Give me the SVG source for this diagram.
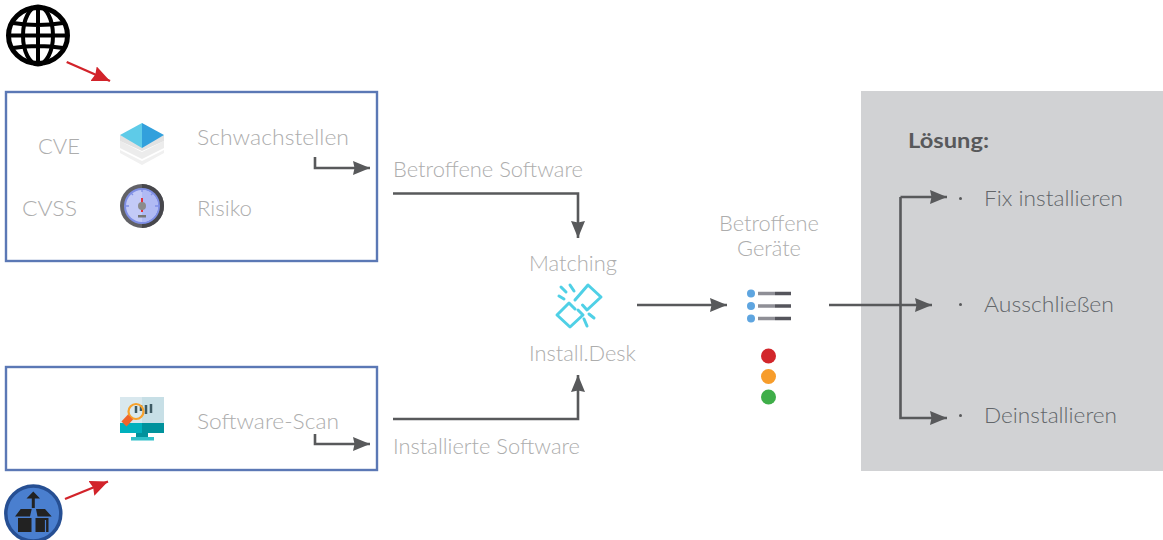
<svg xmlns="http://www.w3.org/2000/svg" width="1163" height="540" viewBox="0 0 1163 540">
<style>
text{font-family:Lato,"Open Sans","Liberation Sans",sans-serif;font-weight:300;font-size:21px;fill:#adadad}
.s{fill:#62666a}
.b{fill:#fff;stroke:#5b78b5;stroke-width:2.4}
.c{fill:none;stroke:#58595b;stroke-width:2.6}
.r{fill:none;stroke:#d2232a;stroke-width:2.4}
.g{fill:none;stroke:#000;stroke-width:4}
</style>
<defs>
<marker id="a" markerUnits="userSpaceOnUse" markerWidth="18" markerHeight="14" refX="17" refY="7" orient="auto"><path d="M0 0L17 7L0 14L1.500 7Z" fill="#58595b"/></marker>
<marker id="rd" markerUnits="userSpaceOnUse" markerWidth="20" markerHeight="16" refX="18" refY="8" orient="auto"><path d="M0 0L18 8L0 16L2 8Z" fill="#d2232a"/></marker>
</defs>
<rect id="panel" x="861" y="91" width="302" height="380" fill="#d1d2d4"/>
<g id="box-top"><rect class="b" x="6" y="92" width="371" height="169"/></g>
<g id="box-bottom"><rect class="b" x="6" y="367" width="371" height="103"/></g>
<g id="globe">
<ellipse cx="38" cy="35.500" rx="29.500" ry="28" fill="#fff" stroke="#000" stroke-width="5"/>
<ellipse class="g" cx="38" cy="35.500" rx="15" ry="29"/>
<path class="g" d="M38 6V65M8 35.500H68M13 23Q38 27 63 23M13 48Q38 44 63 48"/>
</g>
<g id="box-icon">
<circle cx="33.300" cy="513.500" r="27.500" fill="#4a7fcf" stroke="#264f93" stroke-width="3.500"/>
<path d="M33.300 491.500L26.500 498.500H31.800V508H34.800V498.500H40Z" fill="#222"/>
<path d="M15 516.500L20.700 509H31.700L30 516.500ZM36 509H45L51.700 516.500H37.500Z" fill="#222"/>
<path d="M18 518H31.500V532H18ZM35.500 518H48.500V532H35.500Z" fill="#222"/>
<path d="M45.500 520V532" stroke="#4a7fcf" stroke-width="1.200"/>
</g>
<g id="connectors">
<path class="r" d="M66.700 62L110 81" marker-end="url(#rd)"/>
<path class="r" d="M65 499L108 481.500" marker-end="url(#rd)"/>
<path class="c" d="M315 157V168H370" marker-end="url(#a)"/>
<path class="c" d="M393 193.500H578V238" marker-end="url(#a)"/>
<path class="c" d="M315 434V444H370" marker-end="url(#a)"/>
<path class="c" d="M393 419H578V375" marker-end="url(#a)"/>
<path class="c" d="M637 305H727" marker-end="url(#a)"/>
<path class="c" d="M829 305H932" marker-end="url(#a)"/>
<path class="c" d="M900.500 197V418H947" marker-end="url(#a)"/>
<path class="c" d="M900.500 197H947" marker-end="url(#a)"/>
</g>
<g id="cve"><text x="38" y="154" textLength="42" lengthAdjust="spacingAndGlyphs">CVE</text></g>
<g id="cvss"><text x="22" y="216" textLength="55" lengthAdjust="spacingAndGlyphs">CVSS</text></g>
<g id="layers-icon">
<path d="M120 150L142 161L164 150V153L142 165L120 153Z" fill="#f0f0f0"/>
<path d="M120 141L142 152L164 141V148L142 159L120 148Z" fill="#ececec"/>
<path d="M120 135L142 146L164 135V141L142 151L120 141Z" fill="#e2e2e2"/>
<path d="M120 135L142 123V148Z" fill="#5ecbe8"/>
<path d="M164 135L142 123V148Z" fill="#32a0dc"/>
</g>
<g id="gauge-icon">
<circle cx="142" cy="206" r="22" fill="#626267"/>
<path d="M142 184A22 22 0 0 1 142 228Z" fill="#47474c"/>
<circle cx="142" cy="206" r="18" fill="#7f8fe6"/>
<circle cx="142" cy="206" r="16" fill="#c3caf7"/>
<path d="M142 190A16 16 0 0 1 142 222Z" fill="#b0baf4"/>
<path d="M142 189V192M131 193L133 195M153 193L151 195M126 206H129M158 206H155" stroke="#7f8fe6" stroke-width="1.300"/>
<path d="M142 198V212" stroke="#e8232a" stroke-width="1.800"/>
<circle cx="142" cy="206" r="4" fill="#8b8b8b"/>
<rect x="138" y="215" width="8" height="2.500" fill="#777"/>
</g>
<g id="schwachstellen"><text x="197" y="145" textLength="152" lengthAdjust="spacingAndGlyphs">Schwachstellen</text></g>
<g id="risiko"><text x="197" y="216" textLength="55" lengthAdjust="spacingAndGlyphs">Risiko</text></g>
<g id="betroffene-software"><text x="393" y="177" textLength="190" lengthAdjust="spacingAndGlyphs">Betroffene Software</text></g>
<g id="monitor-icon">
<rect x="120" y="397" width="44" height="26" fill="#d9e8ee"/>
<rect x="142" y="397" width="22" height="26" fill="#c7dfe6"/>
<rect x="120" y="423" width="44" height="10" fill="#00b0bd"/>
<rect x="142" y="423" width="22" height="10" fill="#00929c"/>
<path d="M136 433H148V437H136Z" fill="#00929c"/><rect x="131" y="437" width="23" height="3.500" fill="#2fc0c9"/>
<path d="M136 406V413M141 405V411M146 405V414M151 404V413" stroke="#3d5a63" stroke-width="2.500"/>
<circle cx="136" cy="411.500" r="7.500" fill="none" stroke="#f7a12b" stroke-width="2.200"/>
<path d="M130.500 417L124 424" stroke="#f0642a" stroke-width="7"/>
</g>
<g id="software-scan"><text x="197" y="429" textLength="142" lengthAdjust="spacingAndGlyphs">Software-Scan</text></g>
<g id="installierte-software"><text x="393" y="454" textLength="187" lengthAdjust="spacingAndGlyphs">Installierte Software</text></g>
<g id="matching"><text x="529" y="271" textLength="88" lengthAdjust="spacingAndGlyphs">Matching</text></g>
<g id="link-icon" fill="none" stroke="#4fd0e6" stroke-width="3" stroke-linecap="round" stroke-linejoin="round">
<path d="M575 300L588 285L601 297L587 310L582.500 305"/>
<path d="M575 309L569 303L557 315L570 327L583 315L578 310"/>
<path d="M566 292L561 287M574 291L570 285M564 299L559 296M589 314L594 318M584 319L587 326"/>
</g>
<g id="install-desk"><text x="529" y="361" textLength="107" lengthAdjust="spacingAndGlyphs">Install.Desk</text></g>
<g id="betroffene-geraete">
<text x="769" y="231" text-anchor="middle" textLength="100" lengthAdjust="spacingAndGlyphs">Betroffene</text>
<text x="769" y="256" text-anchor="middle" textLength="64" lengthAdjust="spacingAndGlyphs">Geräte</text>
</g>
<g id="list-icon">
<circle cx="751" cy="293.500" r="4" fill="#5ea5e0"/><circle cx="751" cy="306" r="4" fill="#5ea5e0"/><circle cx="751" cy="318.500" r="4" fill="#5ea5e0"/>
<path d="M758 293.500H775M758 306H775M758 318.500H775" stroke="#8f8f96" stroke-width="3.500"/>
<path d="M775 293.500H791M775 306H791M775 318.500H791" stroke="#55555c" stroke-width="3.500"/>
</g>
<g id="traffic-lights">
<circle cx="768.500" cy="356" r="7.500" fill="#d2262b"/><circle cx="768.500" cy="376.500" r="7.500" fill="#f79d2b"/><circle cx="768.500" cy="397" r="7.500" fill="#3fae49"/>
</g>
<g id="loesung"><text x="908" y="148" textLength="81" lengthAdjust="spacingAndGlyphs" style="font-weight:700;font-size:20px;fill:#58595b">Lösung:</text></g>
<g id="fix"><circle cx="960.500" cy="198.500" r="1.500" fill="#58595b"/><text class="s" x="984" y="206" textLength="139" lengthAdjust="spacingAndGlyphs">Fix installieren</text></g>
<g id="ausschliessen"><circle cx="960.500" cy="304.500" r="1.500" fill="#58595b"/><text class="s" x="984" y="312" textLength="130" lengthAdjust="spacingAndGlyphs">Ausschließen</text></g>
<g id="deinstallieren"><circle cx="960.500" cy="415.500" r="1.500" fill="#58595b"/><text class="s" x="984" y="423" textLength="133" lengthAdjust="spacingAndGlyphs">Deinstallieren</text></g>
</svg>
